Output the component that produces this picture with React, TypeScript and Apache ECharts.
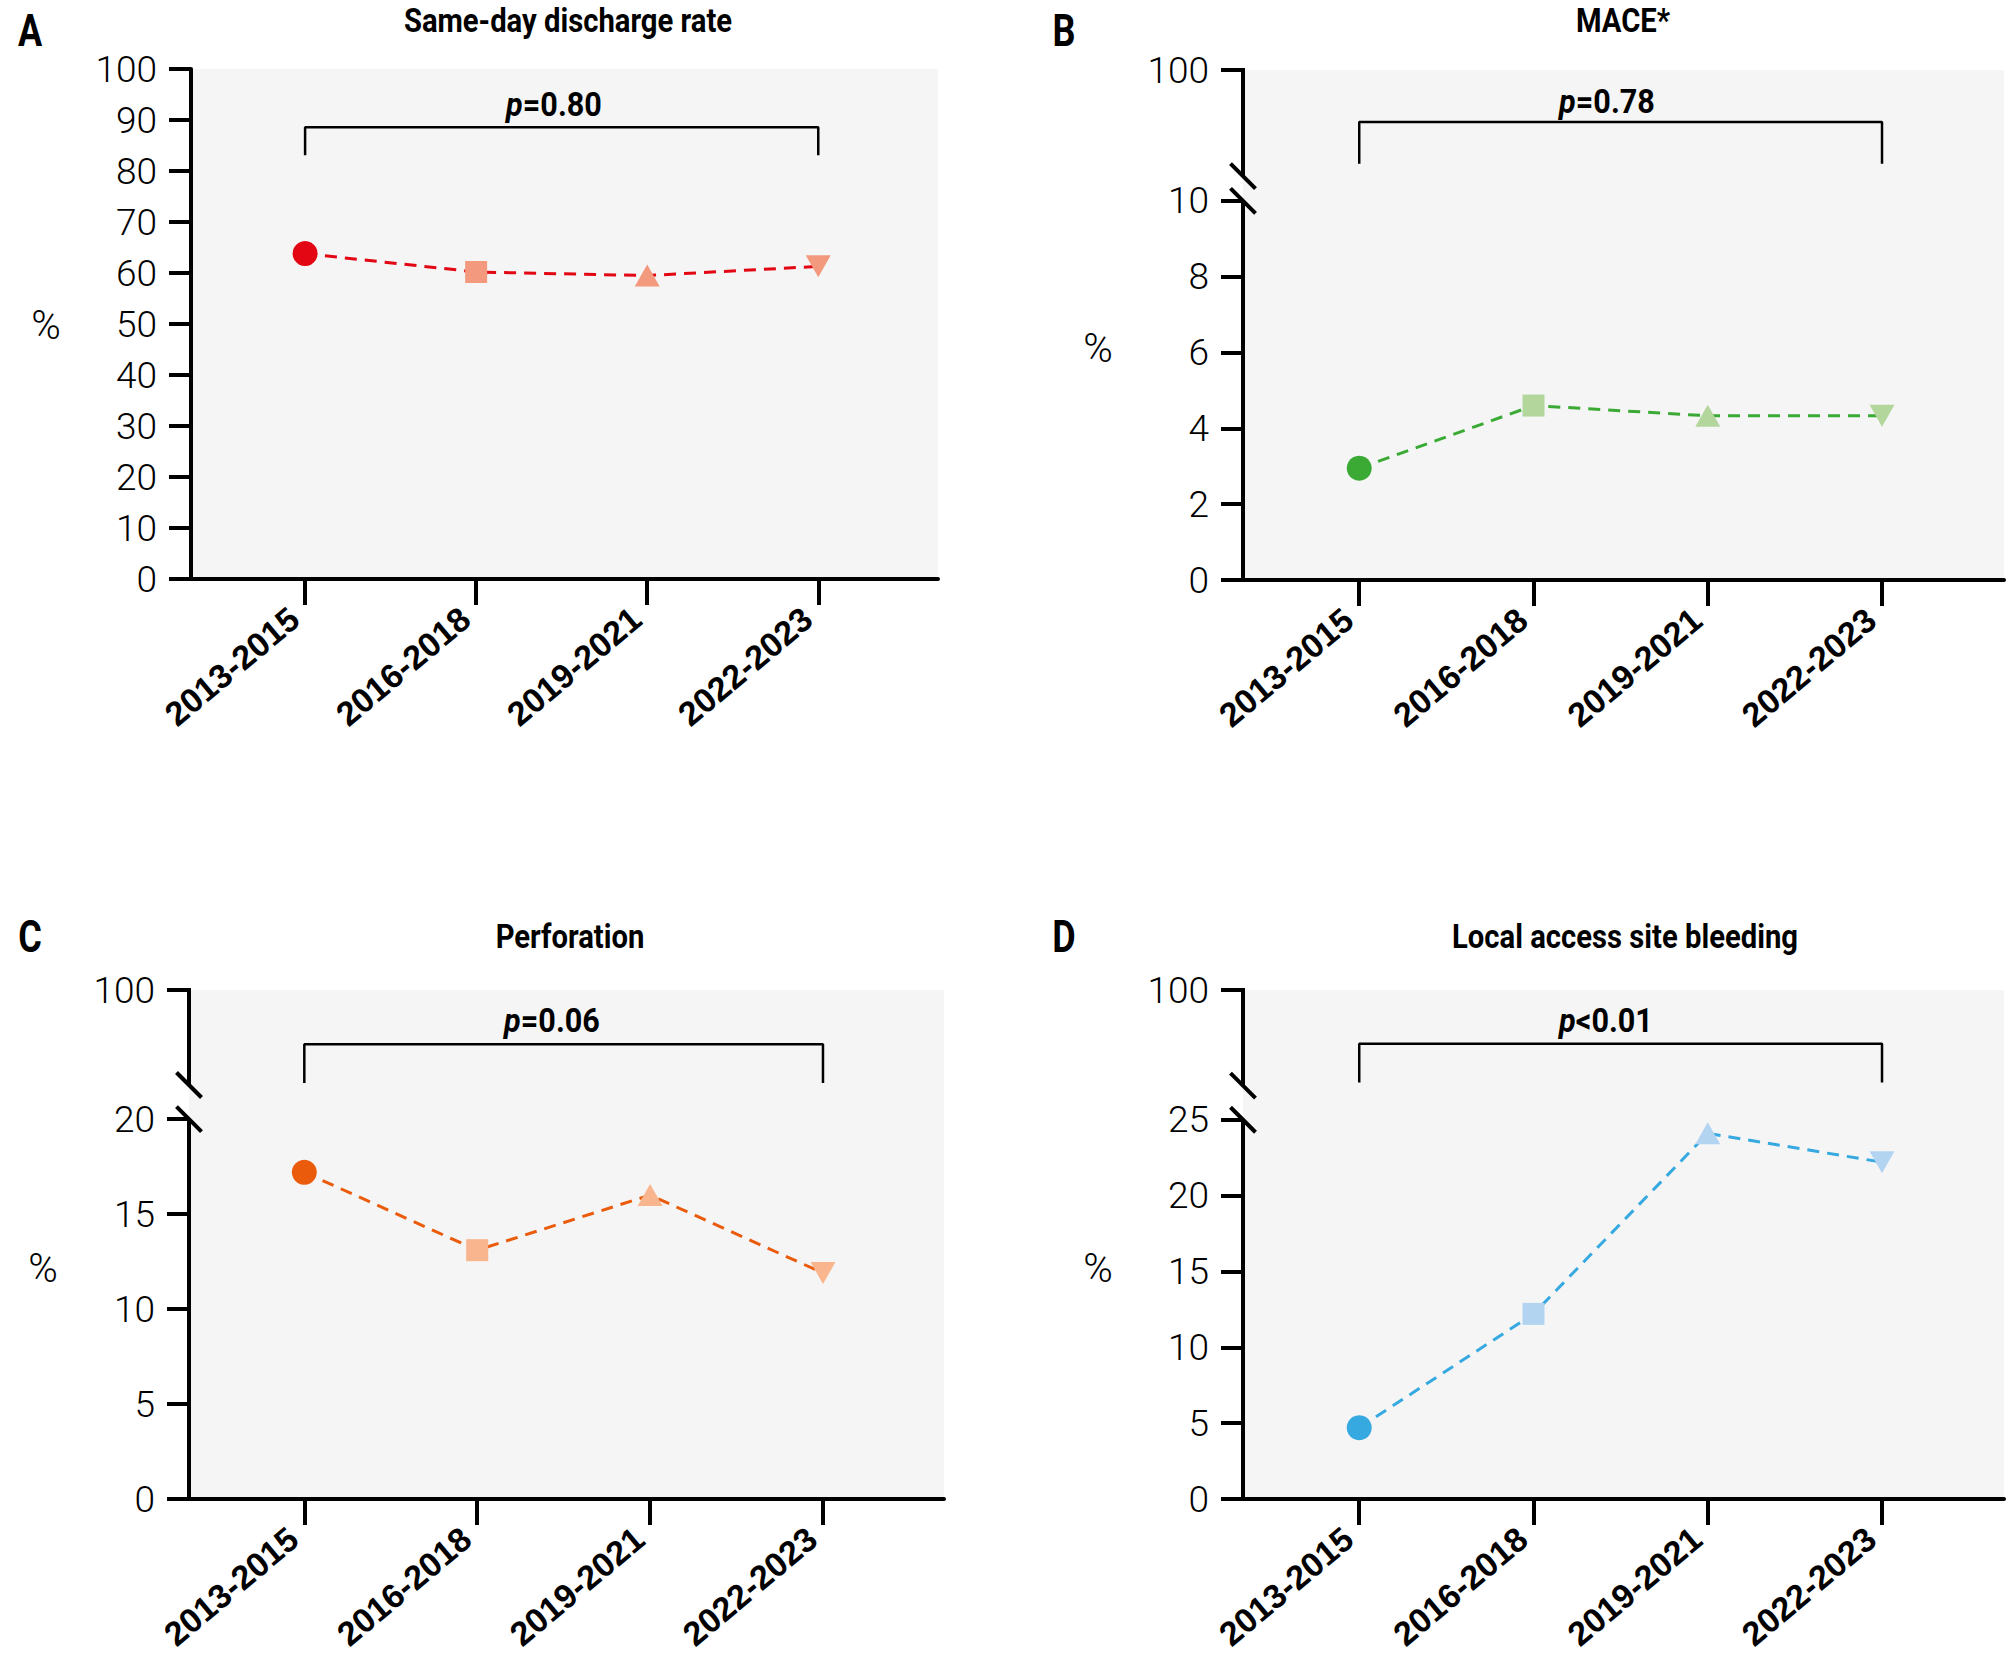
import React, { useEffect, useRef } from "react";
import * as echarts from "echarts";

// ---------------- data ----------------
const categories = ["2013-2015", "2016-2018", "2019-2021", "2022-2023"];
const dischargeRate = [63.8, 60.2, 59.5, 61.3];
const mace = [2.95, 4.6, 4.33, 4.33];
const perforation = [17.2, 13.1, 16.0, 11.9];
const bleeding = [4.7, 12.2, 24.1, 22.2];

const ticksA = [0, 10, 20, 30, 40, 50, 60, 70, 80, 90, 100];
const ticksB = [0, 2, 4, 6, 8, 10];
const ticksC = [0, 5, 10, 15, 20];
const ticksD = [0, 5, 10, 15, 20, 25];
const topTickLabel = "100";

const titles = ["Same-day discharge rate", "MACE*", "Perforation", "Local access site bleeding"];
const letters = ["A", "B", "C", "D"];
const pOperators = ["=", "=", "=", "<"];
const pValues = ["0.80", "0.78", "0.06", "0.01"];

// ---------------- layout / style ----------------
const X_MIN = -0.667;
const X_MAX = 3.7;
const FONT_BOLD = "Roboto";
const FONT_LIGHT = "Roboto";

type Panel = {
  data: number[];
  ticks: number[];
  yMax: number;
  breakLow: number | null;
  breakHigh: number | null;
  bracket: [number, number];
  grid: { left: number; top: number; width: number; height: number };
  colors: { line: string; first: string; rest: string };
  titlePos: [number, number];
  letterPos: [number, number];
  percentPos: [number, number];
  pPos: [number, number];
};

const panels: Panel[] = [
  {
    data: dischargeRate,
    ticks: ticksA,
    yMax: 100,
    breakLow: null,
    breakHigh: null,
    bracket: [83.1, 88.6],
    grid: { left: 191, top: 69, width: 747, height: 510 },
    colors: { line: "#e30613", first: "#e30613", rest: "#f39a7e" },
    titlePos: [568, 21],
    letterPos: [30, 31],
    percentPos: [46, 325],
    pPos: [554, 104],
  },
  {
    data: mace,
    ticks: ticksB,
    yMax: 13.45,
    breakLow: 10,
    breakHigh: 10.65,
    bracket: [10.98, 12.08],
    grid: { left: 1243, top: 70, width: 761, height: 510 },
    colors: { line: "#3aaa35", first: "#3aaa35", rest: "#b2d69c" },
    titlePos: [1623, 21],
    letterPos: [1064, 31],
    percentPos: [1098, 348],
    pPos: [1607, 101],
  },
  {
    data: perforation,
    ticks: ticksC,
    yMax: 26.8,
    breakLow: 20,
    breakHigh: 21.8,
    bracket: [21.9, 23.95],
    grid: { left: 189, top: 990, width: 755, height: 509 },
    colors: { line: "#ea5b0c", first: "#ea5b0c", rest: "#f8b58e" },
    titlePos: [570, 937],
    letterPos: [30, 937],
    percentPos: [43, 1268],
    pPos: [552, 1020],
  },
  {
    data: bleeding,
    ticks: ticksD,
    yMax: 33.55,
    breakLow: 25,
    breakHigh: 27.25,
    bracket: [27.45, 30.0],
    grid: { left: 1243, top: 990, width: 761, height: 509 },
    colors: { line: "#36a9e1", first: "#36a9e1", rest: "#b2d4f1" },
    titlePos: [1625, 937],
    letterPos: [1064, 937],
    percentPos: [1098, 1268],
    pPos: [1606, 1020],
  },
];

const markerShapes = ["circle", "rect", "triangle", "triangle"];
const markerRotations = [0, 0, 0, 180];
const markerSizes: [number, number][] = [
  [25, 25],
  [22, 22],
  [25, 22],
  [25, 22],
];

function buildOption() {
  const grid: any[] = [];
  const xAxis: any[] = [];
  const yAxis: any[] = [];
  const series: any[] = [];

  panels.forEach((p, i) => {
    grid.push({
      ...p.grid,
      show: true,
      backgroundColor: "#f5f5f5",
      borderWidth: 0,
      containLabel: false,
      outerBoundsMode: "none",
    });
    const xVals = categories.map((_, k) => k);
    xAxis.push({
      type: "value",
      gridIndex: i,
      min: X_MIN,
      max: X_MAX,
      axisLine: { show: true, onZero: false, lineStyle: { color: "#000", width: 4 } },
      axisTick: { show: true, customValues: xVals, length: 26, lineStyle: { color: "#000", width: 4 } },
      axisLabel: {
        show: true,
        customValues: xVals,
        rotate: 40,
        margin: 48,
        align: "right",
        verticalAlign: "bottom",
        color: "#000",
        fontFamily: "Liberation Sans",
        fontWeight: "bold",
        fontSize: 34,
        formatter: (v: number) => categories[Math.round(v)] ?? "",
      },
      splitLine: { show: false },
    });
    const yVals = [...p.ticks, p.yMax];
    const broken = p.breakLow !== null;
    yAxis.push({
      type: "value",
      gridIndex: i,
      min: 0,
      max: p.yMax,
      axisLine: { show: !broken, onZero: false, lineStyle: { color: "#000", width: 4 } },
      axisTick: { show: true, customValues: yVals, length: 22, lineStyle: { color: "#000", width: 4 } },
      axisLabel: {
        show: true,
        customValues: yVals,
        margin: 34,
        color: "#000",
        fontFamily: FONT_LIGHT,
        fontWeight: 300,
        fontSize: 37,
        formatter: (v: number) => (Math.abs(v - p.yMax) < 1e-6 ? topTickLabel : String(v)),
      },
      splitLine: { show: false },
    });

    // comparison bracket
    series.push({
      type: "line",
      xAxisIndex: i,
      yAxisIndex: i,
      data: [
        [0, p.bracket[0]],
        [0, p.bracket[1]],
        [categories.length - 1, p.bracket[1]],
        [categories.length - 1, p.bracket[0]],
      ],
      symbol: "none",
      silent: true,
      lineStyle: { color: "#000", width: 2.5 },
      z: 2,
    });

    // data line
    series.push({
      type: "line",
      xAxisIndex: i,
      yAxisIndex: i,
      data: p.data.map((v, k) => ({
        value: [k, v],
        symbol: markerShapes[k],
        symbolSize: markerSizes[k],
        symbolRotate: markerRotations[k],
        itemStyle: { color: k === 0 ? p.colors.first : p.colors.rest, borderWidth: 0 },
      })),
      showAllSymbol: true,
      lineStyle: { color: p.colors.line, width: 3, type: [12, 8] },
      z: 3,
    });
  });

  return { animation: false, backgroundColor: "#ffffff", grid, xAxis, yAxis, series };
}

function buildGraphics(chart: any) {
  const g: any[] = [];
  panels.forEach((p, i) => {
    const px = (x: number, y: number) => chart.convertToPixel({ gridIndex: i }, [x, y]) as number[];

    g.push({
      type: "text",
      x: p.titlePos[0],
      y: p.titlePos[1],
      scaleX: 0.86,
      style: {
        text: titles[i],
        fill: "#000",
        font: `bold 34px ${FONT_BOLD}`,
        textAlign: "center",
        textVerticalAlign: "middle",
      },
    });
    g.push({
      type: "text",
      x: p.letterPos[0],
      y: p.letterPos[1],
      scaleX: 0.8,
      style: {
        text: letters[i],
        fill: "#000",
        font: `bold 45px ${FONT_BOLD}`,
        textAlign: "center",
        textVerticalAlign: "middle",
      },
    });
    g.push({
      type: "text",
      x: p.percentPos[0],
      y: p.percentPos[1],
      style: {
        text: "%",
        fill: "#000",
        font: `300 40px ${FONT_LIGHT}`,
        textAlign: "center",
        textVerticalAlign: "middle",
      },
    });
    g.push({
      type: "text",
      x: p.pPos[0],
      y: p.pPos[1],
      scaleX: 0.9,
      style: {
        text: `{i|p}{n|${pOperators[i]}${pValues[i]}}`,
        textAlign: "center",
        textVerticalAlign: "middle",
        rich: {
          i: { fontStyle: "italic", fontWeight: "bold", fontSize: 34, fontFamily: FONT_BOLD, fill: "#000" },
          n: { fontWeight: "bold", fontSize: 34, fontFamily: FONT_BOLD, fill: "#000" },
        },
      },
    });

    if (p.breakLow !== null && p.breakHigh !== null) {
      const [ax, yTop] = px(X_MIN, p.yMax);
      const [, yHigh] = px(X_MIN, p.breakHigh);
      const [, yLow] = px(X_MIN, p.breakLow);
      const [, y0] = px(X_MIN, 0);
      const lineStyle = { stroke: "#000", lineWidth: 4 };
      g.push({ type: "line", shape: { x1: ax, y1: yTop - 2, x2: ax, y2: yHigh }, style: lineStyle, z: 10 });
      g.push({ type: "line", shape: { x1: ax, y1: yLow, x2: ax, y2: y0 + 2 }, style: lineStyle, z: 10 });
      const d = 12.5;
      [yHigh, yLow].forEach((yy) => {
        g.push({
          type: "line",
          shape: { x1: ax - d, y1: yy - d, x2: ax + d, y2: yy + d },
          style: lineStyle,
          z: 10,
        });
      });
    }
  });
  return g;
}

export default function App() {
  const ref = useRef<HTMLDivElement>(null);
  useEffect(() => {
    if (!ref.current) return;
    const chart = echarts.init(ref.current, null, { renderer: "svg" });
    chart.setOption(buildOption() as any);
    chart.setOption({ graphic: buildGraphics(chart) } as any);
    return () => chart.dispose();
  }, []);
  return (
    <div
      ref={ref}
      style={{ position: "absolute", left: 0, top: 0, width: 2009, height: 1659, background: "#fff" }}
    />
  );
}
